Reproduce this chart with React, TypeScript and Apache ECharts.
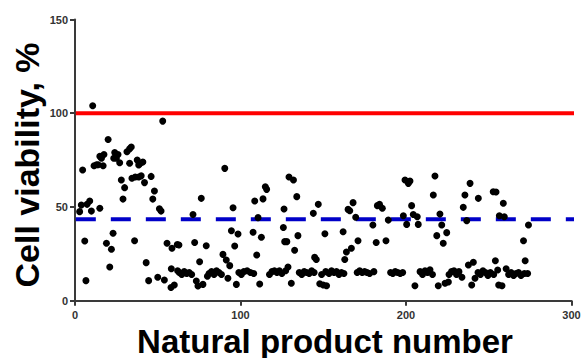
import React, { useEffect, useRef } from "react";
import * as echarts from "echarts";

const xTicks = [0, 100, 200, 300];
const yTicks = [0, 50, 100, 150];
const controlLevel = 100;
const thresholdLevel = 43.5;

const productNumber = [
  2.8, 3.8, 4.6, 5.9, 6.6, 7.3, 8.9, 9.9, 10.7, 11.5, 13, 14, 15, 15, 16, 17, 17.5, 19, 20, 21, 22, 23, 23.4, 24, 25, 26, 27, 28, 29, 30, 31.4, 33, 33, 34, 34.4, 36, 36.4, 37.6, 38.5, 38.5, 39.5, 40, 41, 42, 43, 44.5, 46, 47, 48, 50, 51, 52, 53, 54, 55.6, 58.2, 58.6, 58, 60, 61.8, 62, 62.8,
  63, 64.5, 66, 67.5, 69, 70.5, 71.3, 72.3, 73.3, 74.3, 75.3, 76.3, 77.3, 79.3, 80, 81, 82.5, 84, 85.5, 87, 88.5, 89.4, 90.5, 91.4, 92.4, 93.5, 94.5, 95.5, 96.5, 97.5, 98.5, 99, 100.5, 102, 104, 106, 107.6, 108, 108.6, 109.8, 110.6, 111.6, 112.6, 113.6, 115, 115.8, 117.5, 119, 120.5, 122, 123.5, 125, 125.9, 126.3, 126.7,
  127.3, 128, 128.7, 129.3, 130.7, 132, 132.7, 134, 134.7, 135.5, 137, 138.5, 140, 141.5, 143, 144.5, 144, 144.8, 145.8, 147, 147.9, 149, 150, 151, 151.5, 152, 153.5, 155, 156.5, 158, 159.5, 161, 162, 162.5, 163, 164, 165, 166, 167, 168, 169.6, 170.5, 171, 172, 173.5, 175, 176.5, 178, 180, 180.6, 182, 182.7, 184, 185.7, 187.9, 189.3, 190.7,
  192, 193.5, 195, 196.5, 198, 198.4, 199.4, 200.4, 201.4, 202.4, 203.4, 204.4, 205.4, 206.8, 207.4, 208.5, 210, 211.5, 213, 214.5, 216, 216.5, 217.5, 218.6, 219.5, 220.5, 221.6, 222.5, 223.6, 224.6, 225.6, 226, 227.5, 229, 230.5, 232, 233.8, 234.6, 235.6, 236.7, 237.7, 238.7, 239.7, 240.7, 241.7, 243.5, 243.7, 245, 246.5, 248, 249.5, 251, 252.7, 253, 254,
  254.4, 255.4, 256, 256.4, 258, 258.8, 259.4, 260.5, 262, 263.5, 265, 266.5, 268, 269.5, 271, 271.5, 272, 273.5, 274
];

const viability = [
  47.5, 51, 69.7, 31.8, 10.7, 51.4, 53.2, 47.8, 104, 72, 72.5, 72.5, 49.3, 77, 76, 72, 78, 30.6, 86, 18, 27.4, 36, 76, 79, 76, 78, 73.6, 64.4, 54.2, 60.3, 79.5, 81, 73.3, 82, 65.3, 32, 66, 75, 72.4, 66, 73.3, 66.6, 74, 63, 20.3, 10.7, 66.3, 54.2, 58.5, 12.5, 49, 47.8, 95.8, 11, 30.6, 17, 28, 7, 8.4, 30, 16, 29.7,
  15, 14, 15.5, 14.5, 15, 14, 46, 31, 10.5, 7.8, 20.8, 54.6, 8.7, 29.3, 13, 14.5, 15.5, 14, 16, 15, 14, 24.7, 70.6, 21.7, 12, 18.7, 37.3, 49.6, 29.2, 8.7, 35.6, 15, 14, 15.5, 16, 15, 36.5, 14.5, 53.2, 24.4, 44.3, 8.9, 33.8, 54.3, 60.8, 59.4, 14, 15.5, 16, 15, 16, 14.5, 39, 48.9, 31.5,
  16, 31.5, 18, 66, 9.3, 64.4, 26.9, 55.5, 34.7, 15, 14, 15.5, 15, 14.5, 16, 15, 46.6, 23.1, 22, 51.4, 9, 14, 8.4, 35.7, 15.5, 8, 14.5, 16, 15, 15.5, 14, 15, 36.8, 14.5, 22, 26, 48.7, 48, 28, 52.3, 44.5, 15, 32, 16, 15, 15.5, 15, 14.5, 40.4, 15.5, 31, 50.7, 51.4, 49.3, 32, 43, 15,
  14.5, 15.5, 15, 14.5, 15, 45.3, 64.4, 40.7, 62.6, 63.8, 50.7, 46, 8, 44.8, 40.7, 15.5, 14, 16, 15, 16.5, 14, 56.4, 66.5, 34.7, 8, 46.2, 40.4, 30.6, 9.3, 36.3, 10, 14, 15.5, 16, 14, 15.5, 12.5, 49.8, 56.4, 42.7, 19, 62.6, 8.4, 20.5, 12, 15, 54.6, 14, 16, 15, 13.5, 15, 58.1, 14, 21.3,
  58, 16.4, 8.4, 45.3, 8, 52, 44.8, 17, 14, 15, 13.5, 14.5, 15, 13.5, 32, 14.5, 21.3, 14.5, 40.4
];

const FONT = '"Liberation Sans", Arial, Helvetica, sans-serif';

export default function App() {
  const ref = useRef<HTMLDivElement>(null);
  useEffect(() => {
    if (!ref.current) return;
    const chart = echarts.init(ref.current, null, { renderer: "svg" });
    const points = productNumber.map((x, i) => [x, viability[i]]);
    chart.setOption({
      animation: false,
      backgroundColor: "#ffffff",
      grid: { left: 75, right: 14.5, top: 19.5, bottom: 57.3, containLabel: false },
      xAxis: {
        type: "value",
        min: xTicks[0],
        max: xTicks[xTicks.length - 1],
        interval: 100,
        axisLine: { show: true, onZero: false, lineStyle: { color: "#3a3a3a", width: 2 } },
        axisTick: { show: true, inside: false, length: 5, lineStyle: { color: "#3a3a3a", width: 2 } },
        axisLabel: { margin: 9, color: "#333", fontSize: 11, fontWeight: "bold", fontFamily: FONT },
        splitLine: { show: false },
      },
      yAxis: {
        type: "value",
        min: yTicks[0],
        max: yTicks[yTicks.length - 1],
        interval: 50,
        axisLine: { show: true, onZero: false, lineStyle: { color: "#3a3a3a", width: 2 } },
        axisTick: { show: true, inside: false, length: 5, lineStyle: { color: "#3a3a3a", width: 2 } },
        axisLabel: { margin: 7, color: "#333", fontSize: 11, fontWeight: "bold", fontFamily: FONT },
        splitLine: { show: false },
      },
      graphic: [
        {
          type: "text",
          x: 27,
          y: 165,
          rotation: Math.PI / 2,
          style: {
            text: "Cell viability, %",
            font: `bold 34px ${FONT}`,
            fill: "#000",
            textAlign: "center",
            textVerticalAlign: "middle",
          },
        },
        {
          type: "text",
          x: 325,
          y: 341,
          style: {
            text: "Natural product number",
            font: `bold 33px ${FONT}`,
            fill: "#000",
            textAlign: "center",
            textVerticalAlign: "middle",
          },
        },
      ],
      series: [
        {
          type: "line",
          clip: false,
          symbol: "none",
          silent: true,
          data: [[0.5, controlLevel], [304, controlLevel]],
          lineStyle: { color: "#ff0000", width: 4 },
          z: 1,
        },
        {
          type: "line",
          clip: false,
          symbol: "none",
          silent: true,
          data: [[0.5, thresholdLevel], [304, thresholdLevel]],
          lineStyle: { color: "#0000c8", width: 4, type: [20, 15] },
          z: 1,
        },
        {
          type: "scatter",
          symbol: "circle",
          symbolSize: 7,
          itemStyle: { color: "#000000", opacity: 1 },
          data: points,
          z: 3,
        },
      ],
    });
    return () => chart.dispose();
  }, []);
  return <div ref={ref} style={{ position: "fixed", left: 0, top: 0, width: 586, height: 358 }} />;
}
